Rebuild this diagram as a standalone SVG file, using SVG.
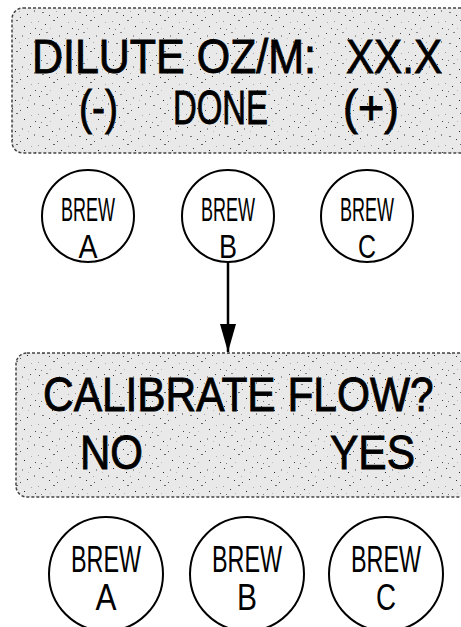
<svg xmlns="http://www.w3.org/2000/svg" width="461" height="627" viewBox="0 0 461 627">
<defs>
<pattern id="stip" width="37" height="31" patternUnits="userSpaceOnUse">
<rect width="37" height="31" fill="#e9e9e9"/>
<rect x="2" y="3" width="1" height="1" fill="#333"/>
<rect x="9" y="1" width="2" height="1" fill="#888"/>
<rect x="15" y="7" width="1" height="1" fill="#222"/>
<rect x="22" y="4" width="1" height="2" fill="#999"/>
<rect x="30" y="2" width="1" height="1" fill="#444"/>
<rect x="5" y="12" width="2" height="1" fill="#777"/>
<rect x="12" y="15" width="1" height="1" fill="#333"/>
<rect x="19" y="11" width="1" height="1" fill="#aaa"/>
<rect x="27" y="14" width="1" height="1" fill="#222"/>
<rect x="34" y="10" width="1" height="2" fill="#888"/>
<rect x="1" y="21" width="1" height="1" fill="#999"/>
<rect x="8" y="24" width="1" height="1" fill="#333"/>
<rect x="16" y="20" width="2" height="1" fill="#666"/>
<rect x="24" y="26" width="1" height="1" fill="#222"/>
<rect x="31" y="22" width="1" height="1" fill="#aaa"/>
<rect x="35" y="28" width="1" height="1" fill="#444"/>
<rect x="4" y="29" width="1" height="1" fill="#777"/>
<rect x="13" y="28" width="1" height="1" fill="#bbb"/>
<rect x="20" y="17" width="1" height="1" fill="#555"/>
<rect x="28" y="7" width="1" height="1" fill="#bbb"/>
</pattern>
<marker id="arr" viewBox="0 0 28 16" refX="28" refY="8" markerWidth="28" markerHeight="16" markerUnits="userSpaceOnUse" orient="auto">
<path d="M0,0 L28,8 L0,16 Z" fill="#000"/>
</marker>
</defs>
<style>
.disp{fill:url(#stip);stroke:#444;stroke-width:1.5;stroke-dasharray:3 2}
.big{font-family:"Liberation Sans",Arial,sans-serif;font-size:49px;fill:#000;stroke:#000;stroke-width:0.9}
.btn{fill:#fff;stroke:#000;stroke-width:2}
.lbl{font-family:"Liberation Sans",Arial,sans-serif;fill:#000;text-anchor:middle}
.s1{font-size:34px}
.s2{font-size:36px}
.conn{stroke:#000;stroke-width:2.5;fill:none}
</style>

<g id="display-dilute">
<rect class="disp" x="12" y="8" width="470" height="145" rx="11"/>
<text class="big" x="32" y="73" textLength="284" lengthAdjust="spacingAndGlyphs">DILUTE OZ/M:</text>
<text class="big" x="346" y="73" textLength="96" lengthAdjust="spacingAndGlyphs">XX.X</text>
<text class="big" x="79" y="124" textLength="39" lengthAdjust="spacingAndGlyphs">(-)</text>
<text class="big" x="173" y="124" textLength="95" lengthAdjust="spacingAndGlyphs">DONE</text>
<text class="big" x="343" y="124" textLength="56" lengthAdjust="spacingAndGlyphs">(+)</text>
</g>

<g id="brew-a-1">
<circle class="btn" cx="88" cy="216" r="46"/>
<text class="lbl s1" x="88" y="221" textLength="54" lengthAdjust="spacingAndGlyphs">BREW</text>
<text class="lbl s1" x="88" y="258" textLength="19" lengthAdjust="spacingAndGlyphs">A</text>
</g>
<g id="brew-b-1">
<circle class="btn" cx="228" cy="216" r="46"/>
<text class="lbl s1" x="228" y="221" textLength="54" lengthAdjust="spacingAndGlyphs">BREW</text>
<text class="lbl s1" x="228" y="258" textLength="18" lengthAdjust="spacingAndGlyphs">B</text>
</g>
<g id="brew-c-1">
<circle class="btn" cx="367" cy="216" r="46"/>
<text class="lbl s1" x="367" y="221" textLength="54" lengthAdjust="spacingAndGlyphs">BREW</text>
<text class="lbl s1" x="367" y="258" textLength="18" lengthAdjust="spacingAndGlyphs">C</text>
</g>

<g id="display-calibrate">
<rect class="disp" x="16" y="353" width="470" height="144" rx="11"/>
<text class="big" transform="translate(43,411) scale(0.866,1)" x="0" y="0">CALIBRATE FLOW?</text>
<text class="big" x="80" y="469" textLength="63" lengthAdjust="spacingAndGlyphs">NO</text>
<text class="big" x="330" y="469" textLength="85" lengthAdjust="spacingAndGlyphs">YES</text>
</g>

<g id="brew-a-2">
<circle class="btn" cx="106" cy="574" r="57"/>
<text class="lbl s2" x="106" y="572" textLength="70" lengthAdjust="spacingAndGlyphs">BREW</text>
<text class="lbl s2" x="106" y="610" textLength="21" lengthAdjust="spacingAndGlyphs">A</text>
</g>
<g id="brew-b-2">
<circle class="btn" cx="247" cy="574" r="57"/>
<text class="lbl s2" x="247" y="572" textLength="70" lengthAdjust="spacingAndGlyphs">BREW</text>
<text class="lbl s2" x="247" y="610" textLength="20" lengthAdjust="spacingAndGlyphs">B</text>
</g>
<g id="brew-c-2">
<circle class="btn" cx="386" cy="574" r="57"/>
<text class="lbl s2" x="386" y="572" textLength="70" lengthAdjust="spacingAndGlyphs">BREW</text>
<text class="lbl s2" x="386" y="610" textLength="20" lengthAdjust="spacingAndGlyphs">C</text>
</g>

<g id="connectors">
<line class="conn" x1="228" y1="262" x2="228" y2="352" marker-end="url(#arr)"/>
</g>
</svg>
